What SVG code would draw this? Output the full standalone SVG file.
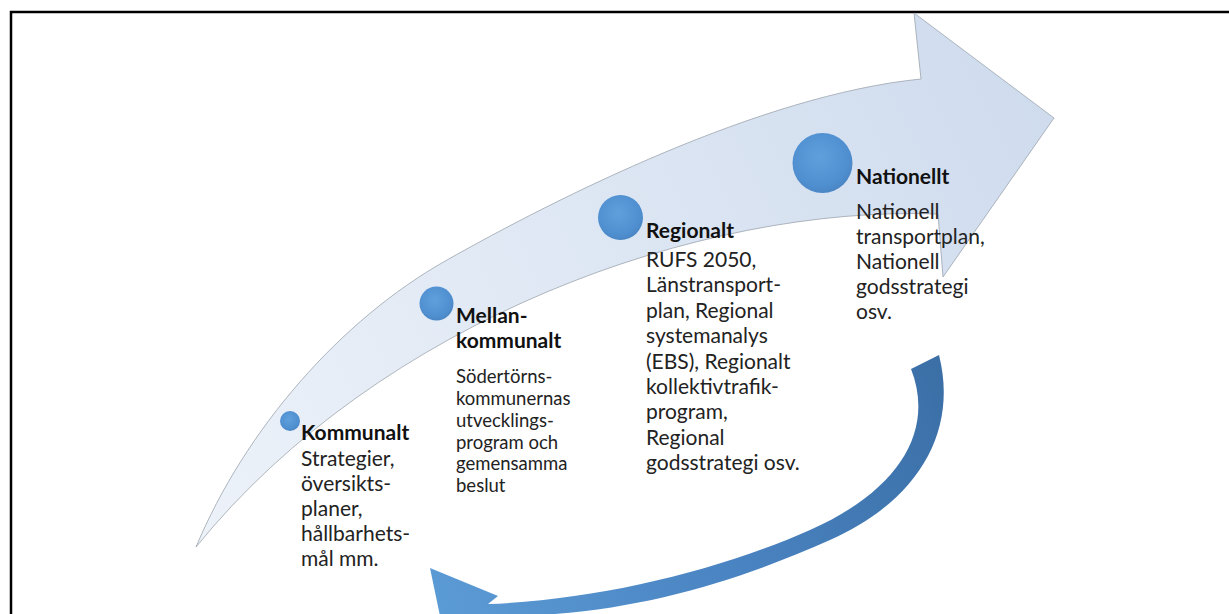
<svg xmlns="http://www.w3.org/2000/svg" width="1229" height="614" viewBox="0 0 1229 614">
<defs>
<linearGradient id="bandGrad" gradientUnits="userSpaceOnUse" x1="196" y1="547" x2="1054" y2="118">
<stop offset="0" stop-color="#edf2f9"/>
<stop offset="1" stop-color="#cfdcee"/>
</linearGradient>
<linearGradient id="loopGrad" gradientUnits="userSpaceOnUse" x1="940" y1="360" x2="430" y2="600">
<stop offset="0" stop-color="#3b6fa6"/>
<stop offset="0.5" stop-color="#4a84c2"/>
<stop offset="1" stop-color="#5b9bd5"/>
</linearGradient>
<radialGradient id="dotGrad" cx="0.45" cy="0.4" r="0.6">
<stop offset="0" stop-color="#5fa0dc"/>
<stop offset="0.8" stop-color="#4f8fd0"/>
<stop offset="1" stop-color="#4a86c4"/>
</radialGradient>
<style>
.title{font-family:Lato,"Liberation Sans",sans-serif;font-weight:bold;font-size:21px;fill:#111}
.body{font-family:Lato,"Liberation Sans",sans-serif;font-size:21px;fill:#222}
.small{font-family:Lato,"Liberation Sans",sans-serif;font-size:18.5px;fill:#222}
.dot{fill:url(#dotGrad)}
</style>
</defs>
<rect x="11" y="12" width="1240" height="640" fill="#fff" stroke="#000" stroke-width="2.5"/>
<g id="connectors">
<path id="main-arrow" d="M196,547 C245,430 340,320 447,260 C555,199 760,95 921,79 L914,13 L1054,118 L943,277 L938,214 C700,205 380,320 196,547 Z" fill="url(#bandGrad)" stroke="#9aa3ad" stroke-width="0.8"/>
<path id="feedback-arrow" d="M911,369 L939,355 C958,430 920,500 830,540 C740,580 640,612 520,616 L440,616 L430,568 L498,596 L488,604 C600,600 720,570 810,530 C900,490 935,430 911,369 Z" fill="url(#loopGrad)"/>
</g>
<g id="node-kommunalt">
<circle class="dot" cx="290" cy="421" r="10"/>
<text class="title" x="301" y="440">Kommunalt</text>
<text class="body" x="301" y="466">Strategier,</text>
<text class="body" x="301" y="491">översikts-</text>
<text class="body" x="301" y="516">planer,</text>
<text class="body" x="301" y="541">hållbarhets-</text>
<text class="body" x="301" y="566">mål mm.</text>
</g>
<g id="node-mellankommunalt">
<circle class="dot" cx="436.5" cy="303.5" r="17"/>
<text class="title" x="456" y="323">Mellan-</text>
<text class="title" x="456" y="348">kommunalt</text>
<text class="small" x="456" y="382.5">Södertörns-</text>
<text class="small" x="456" y="404.5">kommunernas</text>
<text class="small" x="456" y="426.5">utvecklings-</text>
<text class="small" x="456" y="448.5">program och</text>
<text class="small" x="456" y="470">gemensamma</text>
<text class="small" x="456" y="492">beslut</text>
</g>
<g id="node-regionalt">
<circle class="dot" cx="620.5" cy="217.5" r="22.5"/>
<text class="title" x="646" y="237.5">Regionalt</text>
<text class="body" x="646" y="267">RUFS 2050,</text>
<text class="body" x="646" y="292.4">Länstransport-</text>
<text class="body" x="646" y="317.8">plan, Regional</text>
<text class="body" x="646" y="343.2">systemanalys</text>
<text class="body" x="646" y="368.6">(EBS), Regionalt</text>
<text class="body" x="646" y="394">kollektivtrafik-</text>
<text class="body" x="646" y="419.4">program,</text>
<text class="body" x="646" y="444.8">Regional</text>
<text class="body" x="646" y="470.2">godsstrategi osv.</text>
</g>
<g id="node-nationellt">
<circle class="dot" cx="822.5" cy="163" r="30"/>
<text class="title" x="856" y="183.5">Nationellt</text>
<text class="body" x="856" y="218.5">Nationell</text>
<text class="body" x="856" y="243.5">transportplan,</text>
<text class="body" x="856" y="268.5">Nationell</text>
<text class="body" x="856" y="293.5">godsstrategi</text>
<text class="body" x="856" y="318.5">osv.</text>
</g>
</svg>
